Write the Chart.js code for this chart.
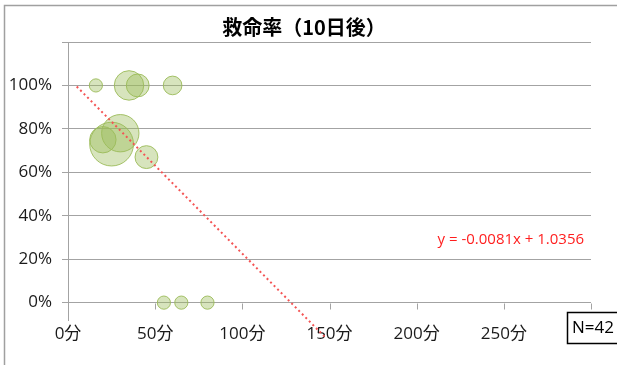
<!DOCTYPE html>
<html>
<head>
  <title>救命率（10日後）</title>
  <script src="https://cdn.jsdelivr.net/npm/chart.js"></script>
  <style>
    body { margin: 0; background: #fff; }
  </style>
</head>
<body>
  <canvas id="rescueChart" width="617" height="365"></canvas>

  <script>
    // 到着までの時間（分）、救命率、症例数
    const minutes = [16, 35, 40, 60, 20, 25, 30, 45, 55, 65, 80];
    const rescueRates = [1, 1, 1, 1, 0.75, 0.73, 0.78, 0.67, 0, 0, 0];
    const caseCounts = [1, 5, 3, 2, 4, 11, 8, 3, 1, 1, 1];

    const xTicks = [0, 50, 100, 150, 200, 250, 300];
    const yTicks = [0, 0.2, 0.4, 0.6, 0.8, 1.0, 1.2];

    // 近似直線 y = -0.0081x + 1.0356
    const trendSlope = -0.0081;
    const trendIntercept = 1.0356;
    const trendRange = [5, 148];
    const trendLabel = 'y = -0.0081x + 1.0356';
    const totalLabel = 'N=42';
    const chartTitle = '救命率（10日後）';

    const bubbleScale = 6.6; // 1症例あたりの半径(px)

    const font = "'Open Sans', 'Noto Sans CJK JP', sans-serif";
    const gray = '#a3a3a3';

    const bubbles = minutes.map((m, i) => ({
      x: m,
      y: rescueRates[i],
      r: bubbleScale * Math.sqrt(caseCounts[i])
    }));

    const trendPoints = trendRange.map(x => ({ x: x, y: trendSlope * x + trendIntercept }));

    // 外枠、タイトル、0%線上の目盛り、近似式、N数の枠
    const extras = {
      id: 'extras',
      beforeDraw(chart) {
        const c = chart.ctx;
        c.save();
        c.strokeStyle = '#a0a0a0';
        c.lineWidth = 1.5;
        c.strokeRect(4.5, 5.5, chart.width + 10, chart.height + 10);

        c.fillStyle = '#000';
        c.font = "bold 20px 'Noto Sans CJK JP', sans-serif";
        c.textAlign = 'center';
        c.textBaseline = 'middle';
        c.fillText(chartTitle, 304, 27);
        c.restore();
      },
      afterDraw(chart) {
        const c = chart.ctx;
        const xs = chart.scales.x;
        const ys = chart.scales.y;
        const y0 = Math.round(ys.getPixelForValue(0)) + 0.5;
        c.save();
        c.strokeStyle = gray;
        c.lineWidth = 1;
        c.beginPath();
        xTicks.forEach(v => {
          const px = Math.round(xs.getPixelForValue(v)) + 0.5;
          c.moveTo(px, y0);
          c.lineTo(px, y0 + 6);
        });
        c.stroke();

        c.fillStyle = '#ff1e1e';
        c.font = '15px ' + font;
        c.textAlign = 'center';
        c.textBaseline = 'middle';
        c.fillText(trendLabel, xs.getPixelForValue(254), ys.getPixelForValue(0.29));

        const area = chart.chartArea;
        const bx = area.right - 24;
        const by = area.bottom - 8;
        c.strokeStyle = '#000';
        c.lineWidth = 1.5;
        c.strokeRect(bx + 0.5, by + 0.5, 60, 31);
        c.fillStyle = '#000';
        c.font = '17px ' + font;
        c.textAlign = 'left';
        c.fillText(totalLabel, bx + 5, by + 16);
        c.restore();
      }
    };

    const ctx = document.getElementById('rescueChart').getContext('2d');

    new Chart(ctx, {
      type: 'bubble',
      data: {
        datasets: [{
          type: 'line',
          data: trendPoints,
          borderColor: '#f45454',
          borderWidth: 2,
          borderDash: [2, 3],
          pointRadius: 0,
          fill: false,
          clip: false,
          order: 0
        }, {
          data: bubbles,
          backgroundColor: 'rgba(155, 187, 89, 0.4)',
          borderColor: 'rgba(155, 187, 89, 0.9)',
          borderWidth: 1,
          order: 1
        }]
      },
      options: {
        responsive: false,
        animation: false,
        layout: { padding: { top: 42, right: 26, left: 0, bottom: 0 } },
        plugins: {
          legend: { display: false },
          tooltip: { enabled: false },
          title: { display: false }
        },
        scales: {
          x: {
            type: 'linear',
            min: 0,
            max: 300,
            afterBuildTicks: s => { s.ticks = xTicks.map(v => ({ value: v })); },
            afterFit: s => { s.height = 45; },
            grid: { display: false, drawTicks: false },
            border: { display: false },
            ticks: {
              padding: 4,
              color: '#1a1a1a',
              font: { family: font, size: 17 },
              maxRotation: 0,
              callback: v => (v === 300 ? '' : v + '分')
            }
          },
          y: {
            min: -0.08,
            max: 1.2,
            afterBuildTicks: s => { s.ticks = yTicks.map(v => ({ value: v })); },
            afterFit: s => { s.width = 68; },
            grid: { color: gray, tickLength: 6 },
            border: { color: gray },
            ticks: {
              padding: 10,
              color: '#1a1a1a',
              font: { family: font, size: 17 },
              callback: v => (v > 1.1 ? '' : Math.round(v * 100) + '%')
            }
          }
        }
      },
      plugins: [extras]
    });
  </script>
</body>
</html>
